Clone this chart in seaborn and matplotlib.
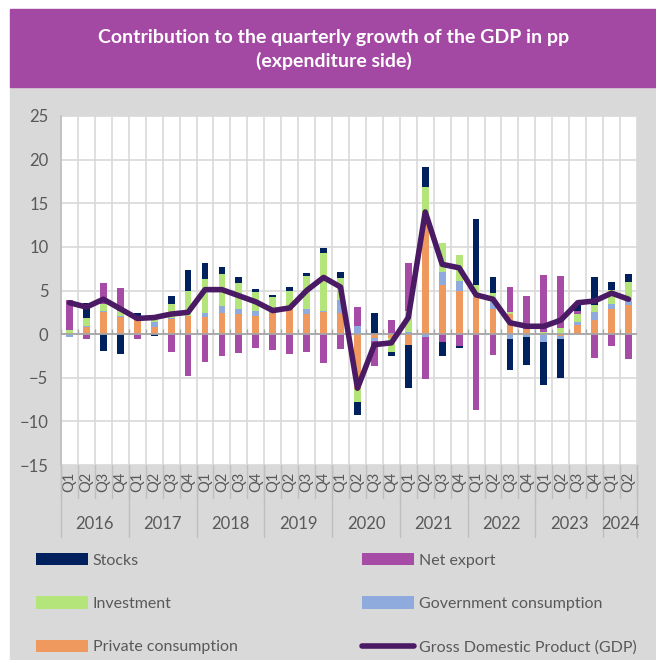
import numpy as np
import pandas as pd
import seaborn as sns
import matplotlib.pyplot as plt
from matplotlib.patches import Rectangle, Patch
from matplotlib.lines import Line2D
import matplotlib.transforms as mtransforms

# Data (pp contributions)
years = ['2016', '2017', '2018', '2019', '2020', '2021', '2022', '2023', '2024']
quarters = ['Q1', 'Q2', 'Q3', 'Q4'] * 8 + ['Q1', 'Q2']

private = [0.1, 0.8, 2.5, 1.95, 1.65, 0.8, 1.75, 2.1,
           2.0, 2.45, 2.25, 2.1, 2.4, 2.9, 2.35, 2.5,
           2.4, -6.3, -0.5, -0.5, -1.2, 13.7, 5.6, 4.9,
           4.3, 2.9, 2.35, 0.6, 0.0, -0.25, 1.05, 1.65,
           2.9, 3.35]
government = [-0.3, 0.1, 0.1, 0.15, 0.0, 0.6, 0.15, 0.0,
              0.4, 0.8, 0.6, 0.5, 0.1, 0.05, 0.5, 0.2,
              1.5, 0.95, -0.3, 0.05, 0.3, -0.3, 1.55, 1.2,
              0.0, 0.8, -0.55, -0.3, -0.85, -0.35, 0.3, 0.9,
              0.5, 0.4]
investment = [0.4, 1.0, 0.8, 0.6, 0.0, 0.4, 1.5, 2.9,
              3.9, 3.6, 3.0, 2.2, 1.8, 2.0, 3.8, 6.6,
              2.5, -1.5, 0.0, -1.5, 2.3, 3.2, 3.3, 3.0,
              1.35, 1.0, 0.2, 0.0, 0.3, 0.75, 0.95, 0.8,
              1.7, 2.2]
net_export = [3.4, -0.6, 2.5, 2.6, -0.6, 0.0, -2.0, -4.8,
              -3.2, -2.5, -2.2, -1.6, -1.8, -2.3, -2.1, -3.3,
              -1.7, 2.2, -2.8, 1.6, 5.5, -4.9, -0.95, -1.4,
              -8.7, -2.35, 2.9, 3.8, 6.5, 5.9, 0.4, -2.7,
              -1.4, -2.8]
stocks = [0.0, 1.7, -1.9, -2.3, 0.8, -0.2, 1.0, 2.3,
          1.9, 0.8, 0.65, 0.4, 0.2, 0.4, 0.4, 0.55,
          0.7, -1.5, 2.4, -0.45, -5.0, 2.3, -1.5, -0.2,
          7.6, 1.8, -3.6, -3.2, -5.0, -4.4, 0.6, 3.2,
          0.85, 0.95]
gdp = [3.6, 3.1, 4.0, 2.9, 1.8, 1.9, 2.3, 2.5,
       5.1, 5.1, 4.4, 3.7, 2.7, 3.0, 5.0, 6.5,
       5.4, -6.2, -1.2, -1.0, 1.9, 14.0, 8.0, 7.6,
       4.5, 4.0, 1.3, 0.9, 0.9, 1.6, 3.6, 3.8,
       4.7, 4.0]

series = [
    ('Private consumption', private, '#F0995F'),
    ('Government consumption', government, '#8FAADC'),
    ('Investment', investment, '#B4E57B'),
    ('Net export', net_export, '#A64CA6'),
    ('Stocks', stocks, '#00215E'),
]
gdp_color = '#4A1A64'
text_color = '#595959'
grid_color = '#D9D9D9'

sns.set_theme(style='white')
plt.rcParams['font.family'] = ['Lato', 'DejaVu Sans']

fig = plt.figure(figsize=(6.56, 6.60), dpi=100)
fig.patch.set_facecolor('white')
W, H = 656, 660

# Chart background and title banner
fig.patches.append(Rectangle((10 / W, 0), 646 / W, (H - 87) / H,
                             transform=fig.transFigure, color='#D9D9D9', zorder=-10))
fig.patches.append(Rectangle((10 / W, (H - 87) / H), 646 / W, 78 / H,
                             transform=fig.transFigure, color='#A349A4', zorder=-10))
fig.text(334 / W, 1 - 37 / H, 'Contribution to the quarterly growth of the GDP in pp',
         ha='center', va='center', color='white', fontsize=14, fontweight='bold')
fig.text(334 / W, 1 - 61 / H, '(expenditure side)',
         ha='center', va='center', color='white', fontsize=14, fontweight='bold')

ax = fig.add_axes([61 / W, (H - 465) / H, 576 / W, 349 / H])
ax.set_facecolor('white')
ax.set_zorder(1)

# Stacked bars, positives and negatives stacked separately
x = np.arange(len(quarters))
pos_base = np.zeros(len(x))
neg_base = np.zeros(len(x))
for name, vals, clr in series:
    v = np.array(vals, dtype=float)
    bottom = np.where(v >= 0, pos_base, neg_base)
    ax.bar(x, v, width=0.4, bottom=bottom, color=clr, zorder=3, linewidth=0)
    pos_base += np.where(v >= 0, v, 0)
    neg_base += np.where(v < 0, v, 0)

# GDP line
df = pd.DataFrame({'pos': x, 'gdp': gdp})
sns.lineplot(data=df, x='pos', y='gdp', ax=ax, color=gdp_color,
             linewidth=4.0, zorder=5, legend=False)

# Axes styling
ax.set_xlim(-0.5, len(x) - 0.5)
ax.set_ylim(-15, 25)
ax.set_yticks(np.arange(-15, 26, 5))
ax.set_xticks(x)
ax.set_xticks(np.arange(-0.5, len(x), 1), minor=True)
ax.grid(which='major', axis='y', color=grid_color, linewidth=1.2, zorder=0)
ax.grid(which='minor', axis='x', color=grid_color, linewidth=1.2, zorder=0)
ax.axhline(0, color='#A6A6A6', linewidth=1.3, zorder=4)
ax.vlines(np.arange(-0.5, len(x), 1), 0, 0.6, color='#A6A6A6', linewidth=1, zorder=4)
for s in ['top', 'right', 'bottom']:
    ax.spines[s].set_visible(False)
ax.spines['left'].set_color('#BFBFBF')
ax.tick_params(axis='y', which='major', length=5, color='#BFBFBF',
               labelsize=12, labelcolor=text_color, pad=4)
ax.tick_params(axis='x', which='both', length=0)
ax.set_xticklabels(quarters, rotation=90, fontsize=10.5, color=text_color)
ax.tick_params(axis='x', which='major', pad=5)
ax.set_xlabel('')
ax.set_ylabel('')

# Multi-level category axis: quarter separators and year labels
trans = mtransforms.blended_transform_factory(ax.transData, ax.transAxes)
q_bottom = -(498 - 465) / 349
y_bottom = -(537 - 465) / 349
year_y = -(524 - 465) / 349
for b in np.arange(-0.5, len(x), 1):
    ax.plot([b, b], [0, q_bottom], transform=trans, color='#BFBFBF',
            linewidth=1, clip_on=False)
starts = np.arange(0, len(x), 4)
for i, yr in enumerate(years):
    s = starts[i]
    e = min(s + 4, len(x))
    ax.plot([s - 0.5, s - 0.5], [0, y_bottom], transform=trans,
            color='#BFBFBF', linewidth=1, clip_on=False)
    ax.text((s + e - 1) / 2, year_y, yr, transform=trans, ha='center',
            va='center', fontsize=12, color=text_color)
ax.plot([len(x) - 0.5, len(x) - 0.5], [0, y_bottom], transform=trans,
        color='#BFBFBF', linewidth=1, clip_on=False)

# Legend, two columns
def handle(name):
    for n, _, c in series:
        if n == name:
            return Patch(facecolor=c, edgecolor='none')

left_names = ['Stocks', 'Investment', 'Private consumption']
right_names = ['Net export', 'Government consumption']
leg_kw = dict(frameon=False, fontsize=11.5, labelcolor=text_color,
              handlelength=3.25, handleheight=0.8, handletextpad=0.3,
              labelspacing=1.8, borderaxespad=0, borderpad=0)
fig.legend([handle(n) for n in left_names], left_names,
           loc='upper left', bbox_to_anchor=(36 / W, 1 - 553 / H), **leg_kw)
right_handles = [handle(n) for n in right_names] + \
    [Line2D([0], [0], color=gdp_color, linewidth=4.0, solid_capstyle='round')]
right_names = right_names + ['Gross Domestic Product (GDP)']
fig.legend(right_handles, right_names,
           loc='upper left', bbox_to_anchor=(362 / W, 1 - 553 / H), **leg_kw)

fig.savefig('out.png', dpi=100)
